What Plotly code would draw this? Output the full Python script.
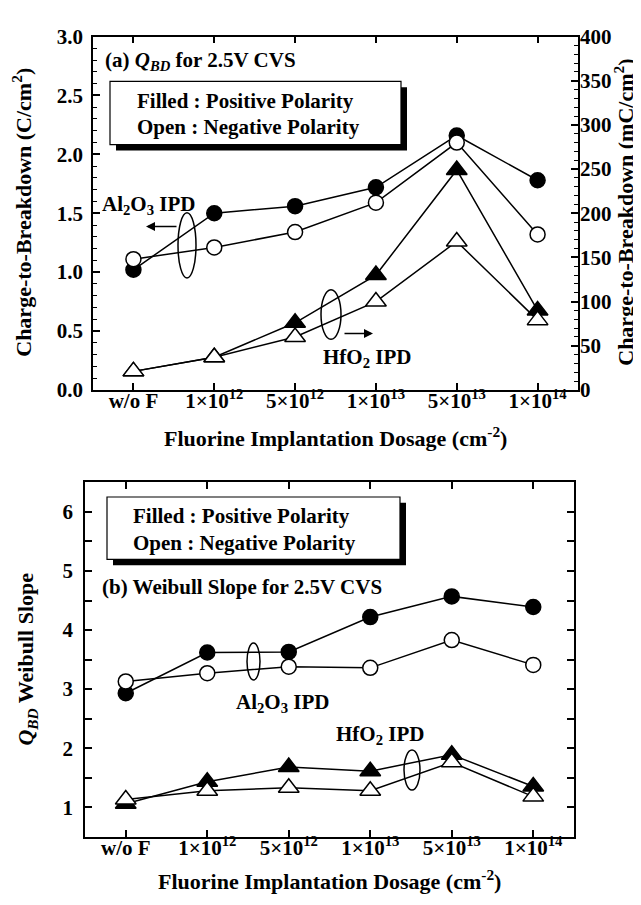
import plotly.graph_objects as go

W, H = 641, 905

categories = ["w/o F", "1×10<sup>12</sup>", "5×10<sup>12</sup>",
              "1×10<sup>13</sup>", "5×10<sup>13</sup>", "1×10<sup>14</sup>"]

# (a) Charge-to-breakdown
qbd_al2o3_pos = [1.02, 1.50, 1.56, 1.72, 2.16, 1.78]   # C/cm2 (left axis)
qbd_al2o3_neg = [1.11, 1.21, 1.34, 1.59, 2.10, 1.32]
qbd_hfo2_pos = [21, 37, 76, 130, 249, 90]              # mC/cm2 (right axis)
qbd_hfo2_neg = [21, 37, 60, 100, 168, 79]

# (b) Weibull slope
wb_al2o3_pos = [2.93, 3.62, 3.63, 4.22, 4.57, 4.39]
wb_al2o3_neg = [3.13, 3.27, 3.38, 3.36, 3.83, 3.41]
wb_hfo2_pos = [1.06, 1.43, 1.68, 1.61, 1.89, 1.35]
wb_hfo2_neg = [1.13, 1.28, 1.33, 1.28, 1.76, 1.18]

FONT = "Liberation Serif, Times New Roman, Times, serif"
BLK = "black"


def px(x):
    return x / W


def py(y):
    return 1 - y / H


fig = go.Figure()


def add(x, y, symbol, filled, xa, ya, size):
    fig.add_trace(go.Scatter(
        x=x, y=y, xaxis=xa, yaxis=ya, mode="lines+markers",
        line=dict(color=BLK, width=1.5),
        marker=dict(symbol=symbol, size=size,
                    color=BLK if filled else "white",
                    line=dict(color=BLK, width=1.5)),
        showlegend=False, cliponaxis=False))


# top panel
add(categories, qbd_al2o3_pos, "circle", True, "x", "y", 15)
add(categories, qbd_al2o3_neg, "circle", False, "x", "y", 15)
add(categories, qbd_hfo2_pos, "triangle-up", True, "x", "y2", 18)
add(categories, qbd_hfo2_neg, "triangle-up", False, "x", "y2", 18)
# bottom panel
add(categories, wb_al2o3_pos, "circle", True, "x2", "y3", 15)
add(categories, wb_al2o3_neg, "circle", False, "x2", "y3", 15)
add(categories, wb_hfo2_pos, "triangle-up", True, "x2", "y3", 18)
add(categories, wb_hfo2_neg, "triangle-up", False, "x2", "y3", 18)

tickfont = dict(family=FONT, size=21, color=BLK, weight="bold")

axis_common = dict(showline=True, linecolor=BLK, linewidth=1.5, ticks="inside",
                   tickcolor=BLK, tickwidth=1.5, ticklen=7, showgrid=False,
                   zeroline=False, tickfont=tickfont)

fig.update_layout(
    width=W, height=H, margin=dict(l=0, r=0, t=0, b=0),
    plot_bgcolor="white", paper_bgcolor="white",
    font=dict(family=FONT, color=BLK),
    xaxis=dict(domain=[px(85), px(570)], anchor="y", type="category",
               range=[-0.5, 5.5], mirror="ticks", ticklabelstandoff=-9, **axis_common),
    yaxis=dict(domain=[py(380), py(17)], anchor="x", range=[0, 3.0],
               dtick=0.5, tickformat=".1f", ticklabelstandoff=4,
               minor=dict(dtick=0.1, ticks="inside", ticklen=4, tickcolor=BLK, tickwidth=1.2),
               **axis_common),
    yaxis2=dict(overlaying="y", side="right", anchor="x", range=[0, 400],
                dtick=50, ticklabelstandoff=-4,
                minor=dict(dtick=10, ticks="inside", ticklen=4, tickcolor=BLK, tickwidth=1.2),
                **axis_common),
    xaxis2=dict(domain=[px(77), px(566)], anchor="y3", type="category",
                range=[-0.5, 5.5], mirror="ticks", ticklabelstandoff=-9, **axis_common),
    yaxis3=dict(domain=[py(839), py(475)], anchor="x2", range=[0.5, 6.5],
                dtick=1, mirror="ticks", ticklabelstandoff=6,
                minor=dict(dtick=0.5, ticks="inside", ticklen=7, tickcolor=BLK, tickwidth=1.5),
                **axis_common),
)

shapes = []
# legend boxes with shadow
for (x0, y0, x1, y1) in [(102, 63, 393, 128), (99, 490, 392, 554)]:
    shapes.append(dict(type="rect", xref="paper", yref="paper",
                       x0=px(x0 + 6), y0=py(y0 + 6), x1=px(x1 + 6), y1=py(y1 + 6),
                       fillcolor=BLK, line=dict(width=0)))
    shapes.append(dict(type="rect", xref="paper", yref="paper",
                       x0=px(x0), y0=py(y0), x1=px(x1), y1=py(y1),
                       fillcolor="white", line=dict(color=BLK, width=1.2)))
# ellipses
for (x0, y0, x1, y1) in [(170, 198, 188, 265), (313, 277, 333, 328),
                         (239, 640, 252, 678), (396, 750, 412, 791)]:
    shapes.append(dict(type="circle", xref="paper", yref="paper",
                       x0=px(x0), y0=py(y0), x1=px(x1), y1=py(y1),
                       line=dict(color=BLK, width=1.5)))
fig.update_layout(shapes=shapes)

ann = []


def text(x, y, s, size=21, xanchor="left", angle=0):
    ann.append(dict(xref="paper", yref="paper", x=px(x), y=py(y), text=s,
                    showarrow=False, xanchor=xanchor, yanchor="middle",
                    textangle=angle, borderpad=0,
                    font=dict(family=FONT, size=size, color=BLK, weight="bold")))


text(96, 42, "(a) <i>Q</i><sub><i>BD</i></sub> for 2.5V CVS")
text(128, 83, "Filled : Positive Polarity")
text(128, 110, "Open : Negative Polarity")
text(93, 190, "Al<sub>2</sub>O<sub>3</sub> IPD")
text(314, 347, "HfO<sub>2</sub> IPD")
text(14, 198, "Charge-to-Breakdown (C/cm<sup>2</sup>)", size=22, xanchor="center", angle=-90)
text(616, 198, "Charge-to-Breakdown (mC/cm<sup>2</sup>)", size=22, xanchor="center", angle=-90)
text(327, 428, "Fluorine Implantation Dosage (cm<sup>-2</sup>)", size=22, xanchor="center")

text(124, 509, "Filled : Positive Polarity")
text(124, 537, "Open : Negative Polarity")
text(93, 582, "(b) Weibull Slope for 2.5V CVS")
text(227, 702, "Al<sub>2</sub>O<sub>3</sub> IPD")
text(327, 734, "HfO<sub>2</sub> IPD")
text(19, 657, "<i>Q</i><sub><i>BD</i></sub> Weibull Slope", size=22, xanchor="center", angle=-90)
text(321, 883, "Fluorine Implantation Dosage (cm<sup>-2</sup>)", size=22, xanchor="center")

# arrows
for (hx, hy, tx, ty) in [(138, 212, 170, 212), (365, 322, 335, 322)]:
    ann.append(dict(xref="paper", yref="paper", x=px(hx), y=py(hy),
                    ax=tx - hx, ay=ty - hy, axref="pixel", ayref="pixel",
                    text="", showarrow=True, arrowhead=2, arrowsize=1.2,
                    arrowwidth=1.5, arrowcolor=BLK))
fig.update_layout(annotations=ann)

fig.write_html("out.html")
